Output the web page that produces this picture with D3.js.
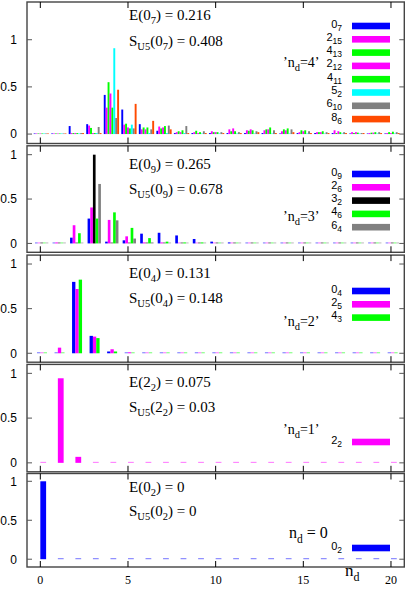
<!DOCTYPE html>
<html><head><meta charset="utf-8">
<script src="https://cdn.jsdelivr.net/npm/d3@7"></script>
<style>body{margin:0;background:#fff}svg{display:block}</style>
</head><body><svg id="c" width="407" height="599"></svg>
<script>
// ---------- data ----------
const nValues = [0,1,2,3,4,5,6,7,8,9,10,11,12,13,14,15,16,17,18,19,20];
const xTicks = [0,5,10,15,20];
const yTicks = [0,0.5,1];
const yTickLabels = ["0","0.5","1"];

// panel n_d = 4
const p1Names = [["0","7"],["2","15"],["4","13"],["2","12"],["4","11"],["5","2"],["6","10"],["8","6"]];
const p1Colors = ["#0000ff","#ff00ff","#00ff00","#ff00ff","#00ff00","#00ffff","#808080","#ff4a00"];
const p1_0_7  = [0,0,0.085,0.105,0.415,0.26,0.105,0.035,0.01,0.005,0.005,0.01,0.005,0.005,0,0.005,0.01,0.005,0,0,0];
const p1_2_15 = [0,0,0.01,0.09,0.28,0.10,0.05,0.08,0.02,0.02,0.03,0.05,0.04,0.04,0.03,0.02,0.02,0.04,0.02,0.01,0.01];
const p1_4_13 = [0,0,0.005,0.065,0.55,0.11,0.07,0.06,0.03,0.035,0.02,0.03,0.035,0.05,0.05,0.04,0.02,0.01,0.01,0.015,0.02];
const p1_2_12 = [0,0,0.01,0.01,0.43,0.07,0.05,0.07,0.02,0.01,0.02,0.06,0.05,0.05,0.04,0.03,0.02,0.03,0.02,0.015,0.01];
const p1_4_11 = [0,0,0.005,0.01,0.28,0.06,0.07,0.085,0.04,0.02,0.02,0.03,0.04,0.07,0.06,0.04,0.03,0.02,0.015,0.02,0.025];
const p1_5_2  = [0,0,0,0.005,0.91,0.10,0.01,0.01,0.005,0,0,0,0,0,0,0,0,0,0,0,0];
const p1_6_10 = [0,0,0.005,0.075,0.17,0.06,0.05,0.09,0.085,0.03,0.02,0.02,0.03,0.04,0.05,0.03,0.02,0.02,0.01,0.02,0.02];
const p1_8_6  = [0,0,0.005,0.01,0.47,0.32,0.14,0.05,0.01,0.005,0.01,0.01,0.02,0.01,0.02,0.01,0.01,0.01,0.005,0.005,0.01];
const p1E = ["0","7","0.216"], p1S = ["0","7","0.408"], p1Nd = "4";

// panel n_d = 3
const p2Names = [["0","9"],["2","6"],["3","2"],["4","6"],["6","4"]];
const p2Colors = ["#0000ff","#ff00ff","#000000","#00ff00","#808080"];
const p2_0_9 = [0,0,0.065,0.28,0.02,0.035,0.11,0.12,0.09,0.05,0.02,0.01,0,0,0,0,0,0,0,0,0];
const p2_2_6 = [0,0.01,0.205,0.405,0.265,0.08,0.01,0.005,0,0,0,0,0,0,0,0,0,0,0,0,0];
const p2_3_2 = [0,0,0,1.0,0,0,0,0,0,0,0,0,0,0,0,0,0,0,0,0,0];
const p2_4_6 = [0,0,0.115,0.28,0.35,0.175,0.06,0.02,0.01,0.005,0,0,0,0,0,0,0,0,0,0,0];
const p2_6_4 = [0,0,0,0.67,0.26,0.055,0.01,0,0,0,0,0,0,0,0,0,0,0,0,0,0];
const p2E = ["0","9","0.265"], p2S = ["0","9","0.678"], p2Nd = "3";

// panel n_d = 2
const p3Names = [["0","4"],["2","5"],["4","3"]];
const p3Colors = ["#0000ff","#ff00ff","#00ff00"];
const p3_0_4 = [0,0,0.80,0.195,0.02,0,0,0,0,0,0,0,0,0,0,0,0,0,0,0,0];
const p3_2_5 = [0,0.063,0.72,0.187,0.045,0.01,0,0,0,0,0,0,0,0,0,0,0,0,0,0,0];
const p3_4_3 = [0,0,0.825,0.17,0.02,0,0,0,0,0,0,0,0,0,0,0,0,0,0,0,0];
const p3E = ["0","4","0.131"], p3S = ["0","4","0.148"], p3Nd = "2";

// panel n_d = 1
const p4Names = [["2","2"]];
const p4Colors = ["#ff00ff"];
const p4_2_2 = [0,0.945,0.067,0,0,0,0,0,0,0,0,0,0,0,0,0,0,0,0,0,0];
const p4E = ["2","2","0.075"], p4S = ["2","2","0.03"], p4Nd = "1";

// panel n_d = 0
const p5Names = [["0","2"]];
const p5Colors = ["#0000ff"];
const p5_0_2 = [1,0,0,0,0,0,0,0,0,0,0,0,0,0,0,0,0,0,0,0,0];
const p5E = ["0","2","0"], p5S = ["0","2","0"], p5Nd = "0";

// ---------- layout ----------
const panels = [
  {top:2,     bottom:143.5, dom:[-0.1,1.4], series:[p1_0_7,p1_2_15,p1_4_13,p1_2_12,p1_4_11,p1_5_2,p1_6_10,p1_8_6], names:p1Names, colors:p1Colors, w:0.109,
   E:p1E, S:p1S, nd:p1Nd, eY:20, sY:46, legY:26, ndY:67, quoted:true},
  {top:145.8, bottom:252.3, dom:[-0.1,1.1], series:[p2_0_9,p2_2_6,p2_3_2,p2_4_6,p2_6_4], names:p2Names, colors:p2Colors, w:0.152,
   E:p2E, S:p2S, nd:p2Nd, eY:168.5, sY:193.5, legY:174, ndY:221, quoted:true},
  {top:255.1, bottom:362.2, dom:[-0.1,1.1], series:[p3_0_4,p3_2_5,p3_4_3], names:p3Names, colors:p3Colors, w:0.19,
   E:p3E, S:p3S, nd:p3Nd, eY:278, sY:303, legY:291, ndY:326, quoted:true},
  {top:364.4, bottom:471.8, dom:[-0.1,1.1], series:[p4_2_2], names:p4Names, colors:p4Colors, w:0.33,
   E:p4E, S:p4S, nd:p4Nd, eY:387, sY:412, legY:442, ndY:434, quoted:true},
  {top:473.5, bottom:567, dom:[-0.1,1.1], series:[p5_0_2], names:p5Names, colors:p5Colors, w:0.33,
   E:p5E, S:p5S, nd:p5Nd, eY:492, sY:516, legY:548, ndY:538, quoted:false}
];

const svg = d3.select("#c");
const x = d3.scaleLinear().domain([-0.76, 20.76]).range([27, 404.3]);
const SERIF = "'Liberation Serif','Times New Roman',serif";
const SANS = "'Liberation Sans',Arial,sans-serif";

function rich(sel, px, py, parts, size, subSize, family, anchor, subDy) {
  const t = sel.append("text").attr("x", px).attr("y", py)
    .attr("font-family", family).attr("font-size", size)
    .attr("text-anchor", anchor || "start").attr("fill", "#000");
  let shift = 0;
  parts.forEach(p => {
    const target = p.sub ? (subDy || 4) : 0;
    const ts = t.append("tspan").text(p.t).attr("dy", target - shift);
    if (p.sub) ts.attr("font-size", subSize);
    shift = target;
  });
  return t;
}

panels.forEach((P) => {
  const y = d3.scaleLinear().domain(P.dom).range([P.bottom, P.top]);
  const g = svg.append("g");
  const k = P.series.length;
  const y0 = y(0);

  // bars
  P.series.forEach((vals, i) => {
    g.selectAll(null).data(nValues.map((n, j) => ({n, v: vals[j]}))).enter()
      .append("rect")
      .attr("x", d => x(d.n + (i - (k - 1) / 2) * P.w))
      .attr("width", x(P.w) - x(0))
      .attr("y", d => Math.min(y(d.v), y0 - 1))
      .attr("height", d => Math.max(y0 - y(d.v), 1))
      .attr("fill", P.colors[i])
      .attr("fill-opacity", d => d.v > 0.004 ? 1 : 0.55);
  });

  // frame
  g.append("rect").attr("x", 27).attr("y", P.top).attr("width", 404.3 - 27).attr("height", P.bottom - P.top)
    .attr("fill", "none").attr("stroke", "#444").attr("stroke-width", 1.4);

  // x ticks top & bottom (inward)
  xTicks.forEach(t => {
    g.append("line").attr("x1", x(t)).attr("x2", x(t)).attr("y1", P.top).attr("y2", P.top + 6).attr("stroke", "#000");
    g.append("line").attr("x1", x(t)).attr("x2", x(t)).attr("y1", P.bottom).attr("y2", P.bottom - 6).attr("stroke", "#000");
  });
  // y ticks left & right
  yTicks.forEach((t, i) => {
    g.append("line").attr("x1", 27).attr("x2", 32).attr("y1", y(t)).attr("y2", y(t)).attr("stroke", "#555");
    g.append("line").attr("x1", 404.3).attr("x2", 399.3).attr("y1", y(t)).attr("y2", y(t)).attr("stroke", "#555");
    g.append("text").attr("x", 17).attr("y", y(t)).attr("dy", "0.36em").attr("text-anchor", "end")
      .attr("font-family", SANS).attr("font-size", 12).text(yTickLabels[i]);
  });

  // annotations
  rich(g, 129, P.eY, [{t:"E(" + P.E[0]}, {t:P.E[1], sub:true}, {t:") = " + P.E[2]}], 15, 10.5, SERIF, "start", 4);
  rich(g, 129, P.sY, [{t:"S"}, {t:"U5", sub:true}, {t:"(" + P.S[0]}, {t:P.S[1], sub:true}, {t:") = " + P.S[2]}], 15, 10.5, SERIF, "start", 4);

  // n_d label
  if (P.quoted) {
    rich(g, 283, P.ndY, [{t:"\u2019n"}, {t:"d", sub:true}, {t:"=" + P.nd + "\u2019"}], 14, 10.5, SERIF, "start", 4);
  } else {
    rich(g, 289, P.ndY, [{t:"n"}, {t:"d", sub:true}, {t:" = " + P.nd}], 16, 11.5, SERIF, "start", 4.5);
  }

  // legend
  P.names.forEach((nm, i) => {
    const cy = P.legY + i * 13.3;
    g.append("rect").attr("x", 352).attr("y", cy - 3.3).attr("width", 38).attr("height", 6.6).attr("fill", P.colors[i]);
    rich(g, 342, cy + 1.5, [{t:nm[0]}, {t:nm[1], sub:true}], 11, 8.5, SANS, "end", 3);
  });
});

// x tick labels under the last panel
xTicks.forEach(t => {
  svg.append("text").attr("x", x(t)).attr("y", 584).attr("text-anchor", "middle")
    .attr("font-family", SERIF).attr("font-size", 12).text(String(t));
});
rich(svg, 345, 576, [{t:"n"}, {t:"d", sub:true}], 17, 12, SERIF, "start", 5);
</script></body></html>
